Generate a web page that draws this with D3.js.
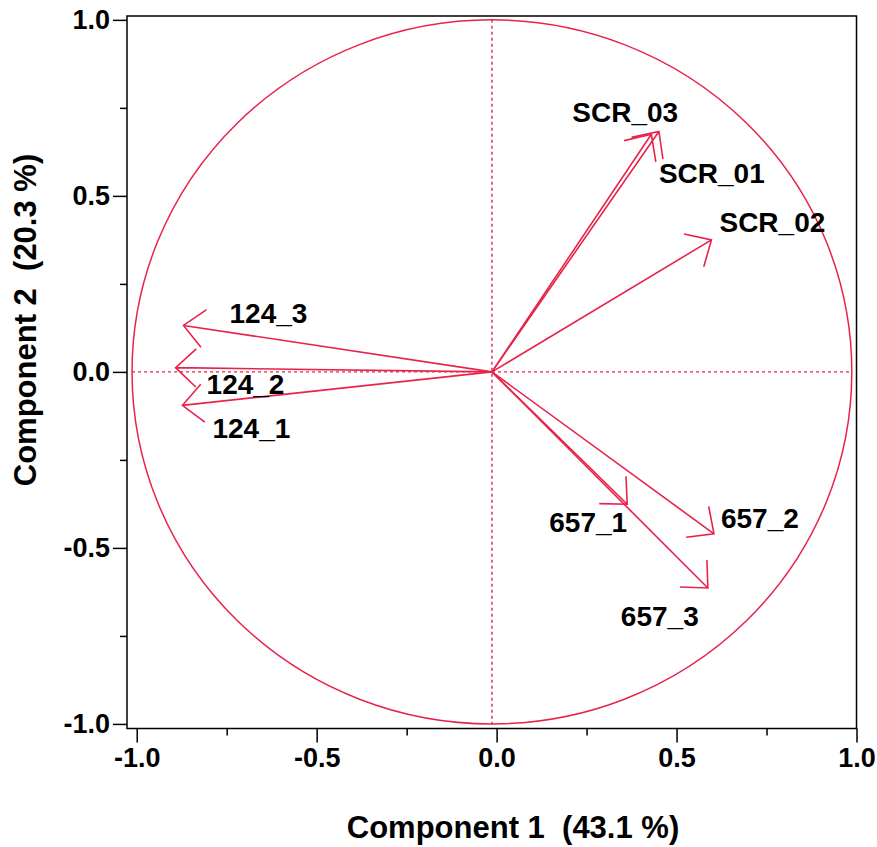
<!DOCTYPE html>
<html>
<head>
<meta charset="utf-8">
<script src="https://cdn.jsdelivr.net/npm/d3@7"></script>
<style>
  html, body { margin: 0; padding: 0; background: #fff; }
  svg { display: block; }
  text { font-family: "Liberation Sans", Arial, Helvetica, sans-serif; font-weight: bold; fill: #000; }
</style>
</head>
<body>
<svg id="chart" width="877" height="847"></svg>
<script>
// Variable loadings on the first two principal components
const variables = ["124_1", "124_2", "124_3", "SCR_01", "SCR_02", "SCR_03", "657_1", "657_2", "657_3"];
const comp1 = [-0.860, -0.879, -0.857, 0.464, 0.610, 0.443, 0.376, 0.617, 0.600];
const comp2 = [-0.095, 0.012, 0.132, 0.683, 0.375, 0.675, -0.376, -0.460, -0.614];

// Centre of the correlation circle on the component axes
const centerX = -0.013;
const centerY = 0;

const xTicks = [-1.0, -0.5, 0.0, 0.5, 1.0];
const yTicks = [-1.0, -0.5, 0.0, 0.5, 1.0];
const xMinorTicks = [-0.75, -0.25, 0.25, 0.75];
const yMinorTicks = [-0.75, -0.25, 0.25, 0.75];

const xTitle = "Component 1  (43.1 %)";
const yTitle = "Component 2  (20.3 %)";

// Label placement relative to each arrow tip, in pixels
const labelOffsets = [
  [30, 33], [31, 26], [46, -2],
  [0, 52], [8, -8], [-79, -12],
  [-78, 28], [7, -6], [-87, 38]
];

const red = "#e8234b";
const svg = d3.select("#chart");

const x = d3.scaleLinear().domain([-1.027, 1.0]).range([127, 856.5]);
const y = d3.scaleLinear().domain([-1.013, 1.011]).range([728.5, 16]);

// Minor and major ticks
svg.append("g")
  .attr("transform", `translate(0,${y.range()[0]})`)
  .call(d3.axisBottom(x).tickValues(xMinorTicks).tickSize(7).tickFormat(""))
  .call(g => g.select(".domain").remove());
svg.append("g")
  .attr("transform", `translate(${x.range()[0]},0)`)
  .call(d3.axisLeft(y).tickValues(yMinorTicks).tickSize(7).tickFormat(""))
  .call(g => g.select(".domain").remove());

const xAxis = svg.append("g")
  .attr("transform", `translate(0,${y.range()[0]})`)
  .call(d3.axisBottom(x).tickValues(xTicks).tickSize(14).tickPadding(5).tickFormat(d => d.toFixed(1)))
  .call(g => g.select(".domain").remove());
const yAxis = svg.append("g")
  .attr("transform", `translate(${x.range()[0]},0)`)
  .call(d3.axisLeft(y).tickValues(yTicks).tickSize(14).tickPadding(3).tickFormat(d => d.toFixed(1)))
  .call(g => g.select(".domain").remove());

[xAxis, yAxis].forEach(g => {
  g.selectAll("text").attr("font-size", 27).attr("font-family", null).attr("fill", "#000");
});
svg.selectAll("g line").attr("stroke", "#000").attr("stroke-width", 1.5);

// Plot frame
svg.append("rect")
  .attr("x", x.range()[0]).attr("y", y.range()[1])
  .attr("width", x.range()[1] - x.range()[0])
  .attr("height", y.range()[0] - y.range()[1])
  .attr("fill", "none").attr("stroke", "#000").attr("stroke-width", 1.5);

// Correlation circle of radius 1
const cx = x(centerX), cy = y(centerY);
const rx = x(1) - x(0), ry = y(0) - y(1);
svg.append("ellipse")
  .attr("cx", cx).attr("cy", cy).attr("rx", rx).attr("ry", ry)
  .attr("fill", "none").attr("stroke", red).attr("stroke-width", 1.5);

// Dotted origin lines across the circle
svg.append("line")
  .attr("x1", x(centerX - 1)).attr("x2", x(centerX + 1))
  .attr("y1", cy).attr("y2", cy)
  .attr("stroke", red).attr("stroke-width", 1.4).attr("stroke-dasharray", "3,3");
svg.append("line")
  .attr("x1", cx).attr("x2", cx)
  .attr("y1", y(centerY + 1)).attr("y2", y(centerY - 1))
  .attr("stroke", red).attr("stroke-width", 1.4).attr("stroke-dasharray", "3,3");

// Loading arrows
const rows = variables.map((name, i) => ({
  name, px: x(centerX + comp1[i]), py: y(centerY + comp2[i]), off: labelOffsets[i]
}));

const headLen = 28, headAngle = 43 * Math.PI / 180;
const arrows = svg.append("g").attr("fill", "none").attr("stroke", red).attr("stroke-width", 1.6)
  .attr("stroke-linejoin", "miter");
arrows.selectAll("path")
  .data(rows)
  .join("path")
  .attr("d", d => {
    const ang = Math.atan2(d.py - cy, d.px - cx) + Math.PI;
    const w1 = [d.px + headLen * Math.cos(ang - headAngle), d.py + headLen * Math.sin(ang - headAngle)];
    const w2 = [d.px + headLen * Math.cos(ang + headAngle), d.py + headLen * Math.sin(ang + headAngle)];
    return `M${cx},${cy}L${d.px},${d.py}M${w1[0]},${w1[1]}L${d.px},${d.py}L${w2[0]},${w2[1]}`;
  });

svg.append("g").selectAll("text")
  .data(rows)
  .join("text")
  .attr("x", d => d.px + d.off[0])
  .attr("y", d => d.py + d.off[1])
  .attr("font-size", 28)
  .text(d => d.name);

// Axis titles
svg.append("text")
  .attr("x", 513).attr("y", 838)
  .attr("text-anchor", "middle")
  .attr("font-size", 31)
  .style("white-space", "pre")
  .text(xTitle);
svg.append("text")
  .attr("transform", "translate(36,320) rotate(-90)")
  .attr("text-anchor", "middle")
  .attr("font-size", 31)
  .style("white-space", "pre")
  .text(yTitle);
</script>
</body>
</html>
